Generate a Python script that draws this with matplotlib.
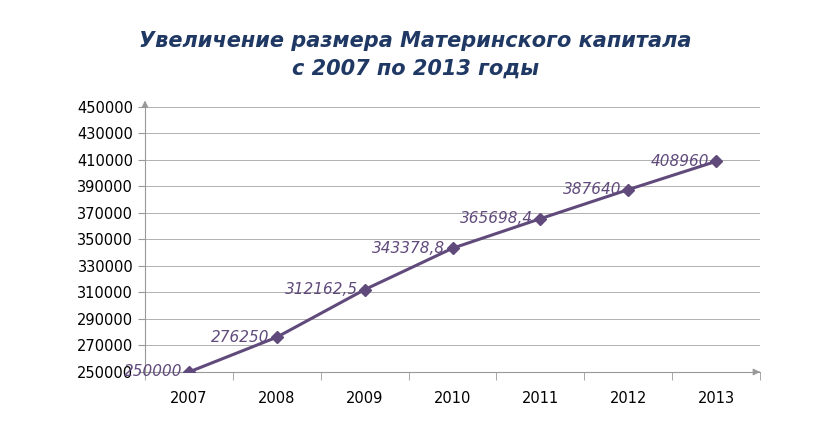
import matplotlib.pyplot as plt

years = ["2007", "2008", "2009", "2010", "2011", "2012", "2013"]
values = [250000, 276250, 312162.5, 343378.8, 365698.4, 387640, 408960]
labels = ["250000", "276250", "312162,5", "343378,8", "365698,4", "387640", "408960"]
yticks = list(range(250000, 450001, 20000))

fig = plt.figure(figsize=(8.31, 4.38), dpi=100)
ax = fig.add_axes([145 / 831, 1 - 372 / 438, 615 / 831, 265 / 438])

x = list(range(len(years)))
line_color = "#604A7B"
ax.plot(x, values, color=line_color, lw=2.2, marker="D", ms=6, zorder=3)
for xi, v, t in zip(x, values, labels):
    ax.annotate(t, (xi, v), xytext=(-5, 0), textcoords="offset points",
                ha="right", va="center", fontsize=11, style="italic",
                color=line_color, zorder=4)

ax.set_xlim(-0.5, 6.5)
ax.set_ylim(250000, 450000)
ax.set_yticks(yticks)
ax.set_yticklabels([str(v) for v in yticks], fontsize=10.5)
ax.set_xticks(x)
ax.set_xticklabels(years, fontsize=10.5)
ax.set_xticks([i + 0.5 for i in range(-1, 7)], minor=True)
ax.tick_params(axis="x", which="major", length=0, pad=14)
ax.tick_params(axis="x", which="minor", length=6, color="#999999", direction="out")
ax.tick_params(axis="y", length=5, color="#999999", direction="out")
ax.grid(axis="y", color="#b0b0b0", lw=0.7)
for s in ["top", "right"]:
    ax.spines[s].set_visible(False)
ax.spines["left"].set_color("#999999")
ax.spines["bottom"].set_color("#999999")
ax.annotate("", xy=(-0.5, 1.035), xycoords=("data", "axes fraction"),
            xytext=(-0.5, 1.0), arrowprops=dict(arrowstyle="-|>", color="#999999", lw=0.8),
            annotation_clip=False)
ax.annotate("", xy=(6.5, 250000), xytext=(6.45, 250000),
            arrowprops=dict(arrowstyle="-|>", color="#999999", lw=0.8),
            annotation_clip=False)

fig.text(0.5, 1 - 55 / 438, "Увеличение размера Материнского капитала\nс 2007 по 2013 годы",
         ha="center", va="center", fontsize=15, fontweight="bold", style="italic",
         color="#1F3864", linespacing=1.45)

fig.savefig("out.png", dpi=100)
